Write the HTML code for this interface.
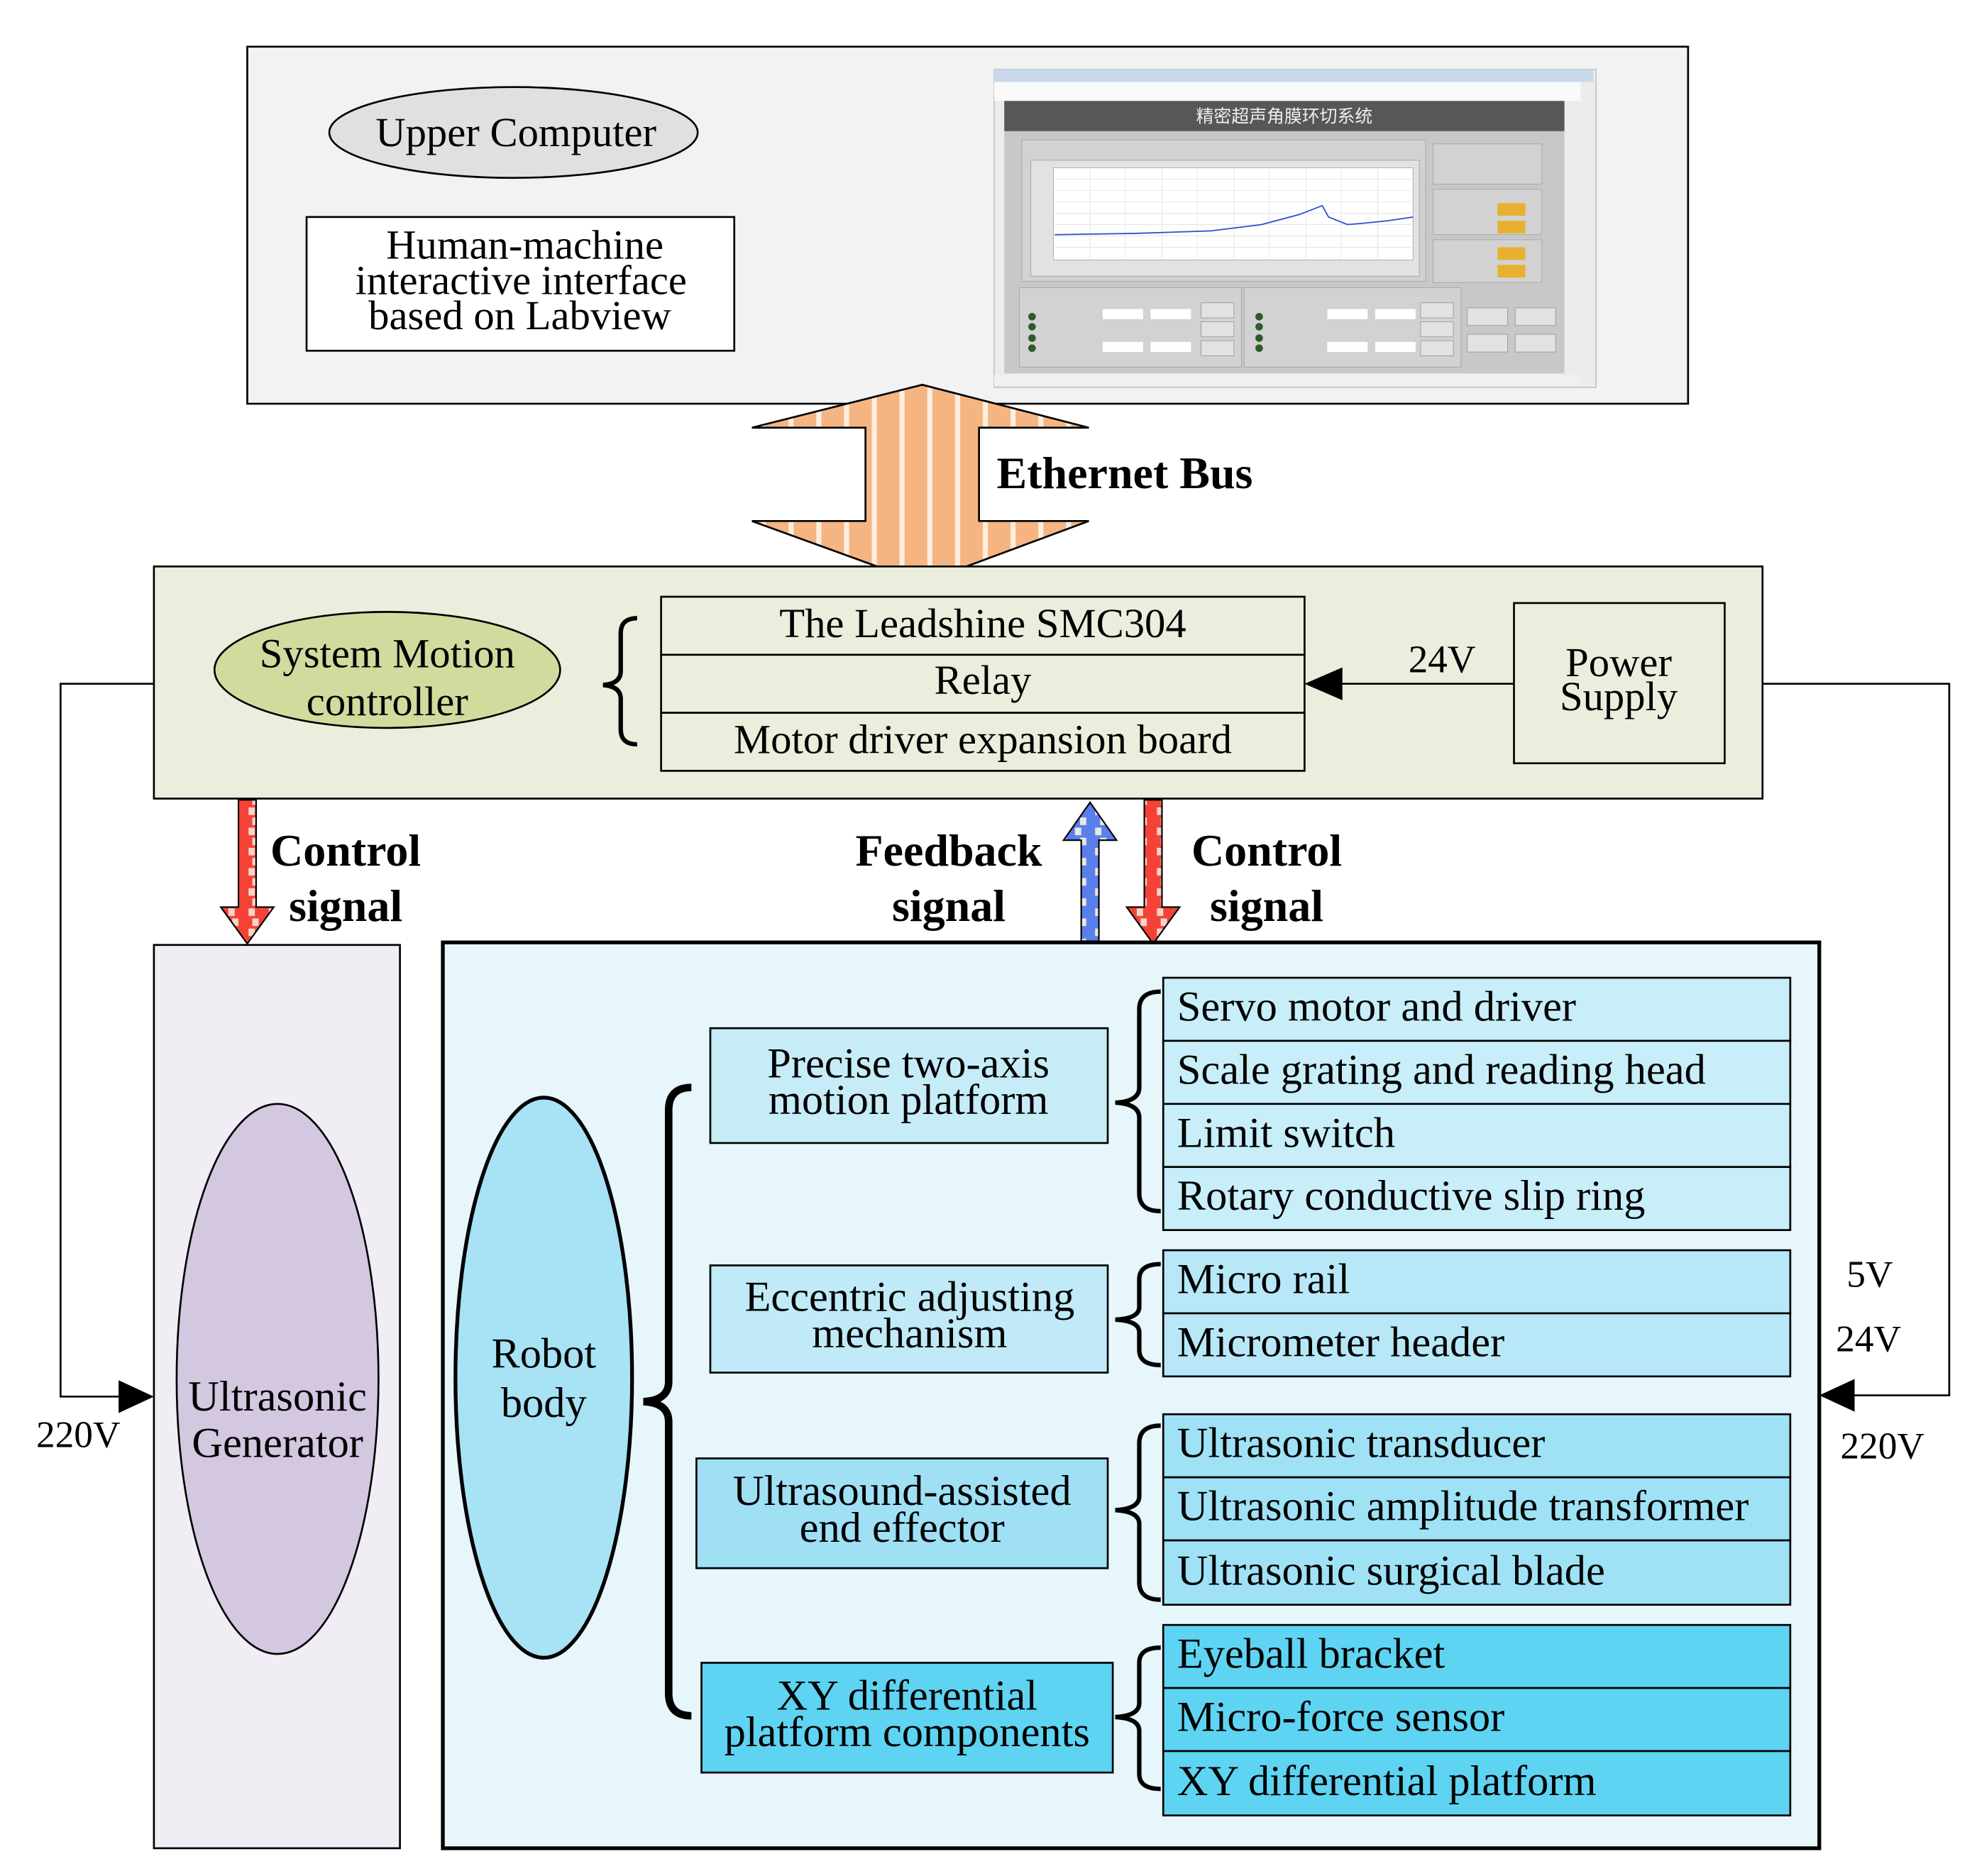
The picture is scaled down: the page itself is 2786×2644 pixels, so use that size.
<!DOCTYPE html>
<html><head><meta charset="utf-8"><style>
html,body{margin:0;padding:0;background:#fff}
svg{display:block}
text{font-family:"Liberation Serif","Noto Serif CJK SC",serif;fill:#000}
</style></head><body>
<svg width="2786" height="2644" viewBox="0 0 1567 1487" preserveAspectRatio="none" xmlns="http://www.w3.org/2000/svg">
<defs>
<pattern id="stripeO" width="22" height="10" patternUnits="userSpaceOnUse"><rect width="22" height="10" fill="#f5b582"/><rect x="9" width="4" height="10" fill="#fdeee0"/></pattern>
<pattern id="chkR" width="16" height="16" patternUnits="userSpaceOnUse"><rect width="16" height="16" fill="#f44336"/><rect x="5" y="0" width="5" height="6" fill="#f3d5cc"/><rect x="8" y="8" width="5" height="6" fill="#f3d5cc"/></pattern>
<pattern id="chkB" width="16" height="16" patternUnits="userSpaceOnUse"><rect width="16" height="16" fill="#5b7fea"/><rect x="4" y="0" width="5" height="6" fill="#e8eadf"/><rect x="8" y="8" width="5" height="6" fill="#e8eadf"/></pattern>
</defs>

<!-- top box -->
<rect x="196" y="37" width="1142" height="283" fill="#f2f2f2" stroke="#000" stroke-width="1.5"/>
<ellipse cx="407" cy="105" rx="146" ry="36" fill="#e0e0e0" stroke="#000" stroke-width="1.5"/>
<text x="409" y="116" font-size="33" text-anchor="middle">Upper Computer</text>
<rect x="243" y="172" width="339" height="106" fill="#fff" stroke="#000" stroke-width="1.5"/>
<text font-size="33" text-anchor="middle"><tspan x="416" y="205">Human-machine</tspan><tspan x="413" y="233">interactive interface</tspan><tspan x="412" y="261">based on Labview</tspan></text>

<!-- screenshot -->
<g>
<rect x="788" y="55" width="477" height="252" fill="#ececec" stroke="#bbb" stroke-width="0.8"/>
<rect x="788" y="55" width="475" height="10" fill="#c8d8ea"/>
<rect x="788" y="65" width="465" height="15" fill="#fafafa"/>
<rect x="796" y="80" width="444" height="24" fill="#575757"/>
<text x="1018" y="97" font-size="14" text-anchor="middle" style="fill:#eee;font-family:'Noto Sans CJK SC',sans-serif">精密超声角膜环切系统</text>
<rect x="796" y="104" width="444" height="192" fill="#c8c8c8"/>
<rect x="810" y="111" width="320" height="112" fill="#d2d2d2" stroke="#aaa" stroke-width="0.6"/>
<rect x="817" y="127" width="308" height="92" fill="#e2e2e2" stroke="#aaa" stroke-width="0.6"/>
<rect x="835" y="133" width="285" height="73" fill="#fff" stroke="#999" stroke-width="0.4"/>
<g stroke="#e4e4e4" stroke-width="0.5">
<line x1="835" y1="142" x2="1120" y2="142"/><line x1="835" y1="151" x2="1120" y2="151"/><line x1="835" y1="160" x2="1120" y2="160"/><line x1="835" y1="169" x2="1120" y2="169"/><line x1="835" y1="178" x2="1120" y2="178"/><line x1="835" y1="187" x2="1120" y2="187"/><line x1="835" y1="196" x2="1120" y2="196"/>
<line x1="864" y1="133" x2="864" y2="206"/><line x1="892" y1="133" x2="892" y2="206"/><line x1="921" y1="133" x2="921" y2="206"/><line x1="949" y1="133" x2="949" y2="206"/><line x1="978" y1="133" x2="978" y2="206"/><line x1="1006" y1="133" x2="1006" y2="206"/><line x1="1035" y1="133" x2="1035" y2="206"/><line x1="1063" y1="133" x2="1063" y2="206"/><line x1="1092" y1="133" x2="1092" y2="206"/>
</g>
<polyline points="836,186 900,185 960,183 1000,178 1030,170 1048,163 1053,172 1068,178 1080,177 1100,175 1120,172" fill="none" stroke="#2a4fd0" stroke-width="1"/>
<rect x="1136" y="114" width="86" height="32" fill="#d2d2d2" stroke="#aaa" stroke-width="0.6"/>
<rect x="1136" y="150" width="86" height="36" fill="#d2d2d2" stroke="#aaa" stroke-width="0.6"/>
<rect x="1136" y="190" width="86" height="34" fill="#d2d2d2" stroke="#aaa" stroke-width="0.6"/>
<rect x="1187" y="161" width="22" height="10" fill="#e8b030"/><rect x="1187" y="175" width="22" height="10" fill="#e8b030"/>
<rect x="1187" y="196" width="22" height="10" fill="#e8b030"/><rect x="1187" y="210" width="22" height="10" fill="#e8b030"/>
<rect x="808" y="228" width="176" height="63" fill="#d2d2d2" stroke="#aaa" stroke-width="0.6"/>
<rect x="986" y="228" width="172" height="63" fill="#d2d2d2" stroke="#aaa" stroke-width="0.6"/>
<g fill="#e2e2e2" stroke="#999" stroke-width="0.5">
<rect x="952" y="240" width="26" height="12"/><rect x="952" y="255" width="26" height="12"/><rect x="952" y="270" width="26" height="12"/>
<rect x="1126" y="240" width="26" height="12"/><rect x="1126" y="255" width="26" height="12"/><rect x="1126" y="270" width="26" height="12"/>
<rect x="1163" y="244" width="32" height="14"/><rect x="1201" y="244" width="32" height="14"/>
<rect x="1163" y="265" width="32" height="14"/><rect x="1201" y="265" width="32" height="14"/>
</g>
<g fill="#fff"><rect x="874" y="245" width="32" height="8"/><rect x="912" y="245" width="32" height="8"/><rect x="874" y="271" width="32" height="8"/><rect x="912" y="271" width="32" height="8"/><rect x="1052" y="245" width="32" height="8"/><rect x="1090" y="245" width="32" height="8"/><rect x="1052" y="271" width="32" height="8"/><rect x="1090" y="271" width="32" height="8"/></g>
<g fill="#2f5a2a"><circle cx="818" cy="251" r="3"/><circle cx="818" cy="259" r="3"/><circle cx="818" cy="268" r="3"/><circle cx="818" cy="276" r="3"/><circle cx="998" cy="251" r="3"/><circle cx="998" cy="259" r="3"/><circle cx="998" cy="268" r="3"/><circle cx="998" cy="276" r="3"/></g>
<rect x="788" y="297" width="465" height="9" fill="#f0f0f0"/>
</g>

<!-- Ethernet arrow -->
<polygon points="686,339 596,339 731,305 863,339 776,339 776,413 863,413 731,462 596,413 686,413" fill="url(#stripeO)" stroke="#000" stroke-width="1.5"/>
<text x="790" y="387" font-size="36" font-weight="bold">Ethernet Bus</text>

<!-- middle box -->
<rect x="122" y="449" width="1275" height="184" fill="#ebeedd" stroke="#000" stroke-width="1.5"/>
<ellipse cx="307" cy="531" rx="137" ry="46" fill="#d0dc9e" stroke="#000" stroke-width="1.5"/>
<text font-size="33" text-anchor="middle"><tspan x="307" y="529">System Motion</tspan><tspan x="307" y="567">controller</tspan></text>
<path d="M505,490 Q492,490 492,502 L492,532 Q492,542 478,543 Q492,544 492,554 L492,578 Q492,590 505,590" fill="none" stroke="#000" stroke-width="3.5"/>
<g fill="#ebeedd" stroke="#000" stroke-width="1.5">
<rect x="524" y="473" width="510" height="46"/><rect x="524" y="519" width="510" height="46"/><rect x="524" y="565" width="510" height="46"/>
</g>
<text font-size="33" text-anchor="middle"><tspan x="779" y="505">The Leadshine SMC304</tspan><tspan x="779" y="550">Relay</tspan><tspan x="779" y="597">Motor driver expansion board</tspan></text>
<rect x="1200" y="478" width="167" height="127" fill="#ebeedd" stroke="#000" stroke-width="1.5"/>
<text font-size="33" text-anchor="middle"><tspan x="1283" y="536">Power</tspan><tspan x="1283" y="563">Supply</tspan></text>
<line x1="1200" y1="542" x2="1060" y2="542" stroke="#000" stroke-width="1.5"/>
<polygon points="1034,542 1064,529 1064,555" fill="#000"/>
<text x="1143" y="533" font-size="31" text-anchor="middle">24V</text>

<!-- side power lines -->
<polyline points="122,542 48,542 48,1107 98,1107" fill="none" stroke="#000" stroke-width="1.5"/>
<polygon points="122,1107 94,1094 94,1120" fill="#000"/>
<text x="62" y="1147" font-size="30" text-anchor="middle">220V</text>
<polyline points="1397,542 1545,542 1545,1106 1466,1106" fill="none" stroke="#000" stroke-width="1.5"/>
<polygon points="1442,1106 1470,1093 1470,1119" fill="#000"/>
<text x="1482" y="1020" font-size="30" text-anchor="middle">5V</text>
<text x="1481" y="1071" font-size="30" text-anchor="middle">24V</text>
<text x="1492" y="1156" font-size="30" text-anchor="middle">220V</text>

<!-- signal arrows -->
<polygon points="189,634 203,634 203,719 217,719 196,748 175,719 189,719" fill="url(#chkR)" stroke="#000" stroke-width="1.2"/>
<polygon points="907,634 921,634 921,719 935,719 914,748 893,719 907,719" fill="url(#chkR)" stroke="#000" stroke-width="1.2"/>
<polygon points="857,746 871,746 871,666 885,666 864,636 843,666 857,666" fill="url(#chkB)" stroke="#000" stroke-width="1.2"/>
<text font-size="36" font-weight="bold" text-anchor="middle"><tspan x="274" y="686">Control</tspan><tspan x="274" y="730">signal</tspan></text>
<text font-size="36" font-weight="bold" text-anchor="middle"><tspan x="752" y="686">Feedback</tspan><tspan x="752" y="730">signal</tspan></text>
<text font-size="36" font-weight="bold" text-anchor="middle"><tspan x="1004" y="686">Control</tspan><tspan x="1004" y="730">signal</tspan></text>

<!-- ultrasonic generator -->
<rect x="122" y="749" width="195" height="716" fill="#f0eef4" stroke="#000" stroke-width="1.5"/>
<ellipse cx="220" cy="1093" rx="80" ry="218" fill="#d3c8e0" stroke="#000" stroke-width="1.5"/>
<text font-size="34" text-anchor="middle"><tspan x="220" y="1118">Ultrasonic</tspan><tspan x="220" y="1155">Generator</tspan></text>

<!-- robot box -->
<rect x="351" y="747" width="1091" height="718" fill="#e6f6fb" stroke="#000" stroke-width="3"/>
<ellipse cx="431" cy="1092" rx="70" ry="222" fill="#a8e2f5" stroke="#000" stroke-width="3"/>
<text font-size="34" text-anchor="middle"><tspan x="431" y="1084">Robot</tspan><tspan x="431" y="1123">body</tspan></text>
<path d="M548,862 Q530,862 530,880 L530,1095 Q530,1110 510,1111 Q530,1112 530,1127 L530,1342 Q530,1360 548,1360" fill="none" stroke="#000" stroke-width="6"/>

<g stroke="#000" stroke-width="1.5">
<rect x="563" y="815" width="315" height="91" fill="#c6ecf8"/>
<rect x="563" y="1003" width="315" height="85" fill="#c0eaf8"/>
<rect x="552" y="1156" width="326" height="87" fill="#9fe0f5"/>
<rect x="556" y="1318" width="326" height="87" fill="#5ed3f2"/>
</g>
<text font-size="34" text-anchor="middle"><tspan x="720" y="854">Precise two-axis</tspan><tspan x="720" y="883">motion platform</tspan></text>
<text font-size="34" text-anchor="middle"><tspan x="721" y="1039">Eccentric adjusting</tspan><tspan x="721" y="1068">mechanism</tspan></text>
<text font-size="34" text-anchor="middle"><tspan x="715" y="1193">Ultrasound-assisted</tspan><tspan x="715" y="1222">end effector</tspan></text>
<text font-size="34" text-anchor="middle"><tspan x="719" y="1355">XY differential</tspan><tspan x="719" y="1384">platform components</tspan></text>

<g fill="none" stroke="#000" stroke-width="3.5">
<path d="M920,786 Q903,786 903,800 L903,862 Q903,873 884,874 Q903,875 903,886 L903,946 Q903,960 920,960"/>
<path d="M920,1002 Q903,1002 903,1014 L903,1036 Q903,1045 884,1046 Q903,1047 903,1056 L903,1070 Q903,1082 920,1082"/>
<path d="M920,1130 Q903,1130 903,1144 L903,1186 Q903,1196 884,1197 Q903,1198 903,1208 L903,1254 Q903,1268 920,1268"/>
<path d="M920,1306 Q903,1306 903,1318 L903,1350 Q903,1360 884,1361 Q903,1362 903,1372 L903,1406 Q903,1418 920,1418"/>
</g>

<g stroke="#000" stroke-width="1.5">
<rect x="922" y="775" width="497" height="50" fill="#c8eef9"/><rect x="922" y="825" width="497" height="50" fill="#c8eef9"/><rect x="922" y="875" width="497" height="50" fill="#c8eef9"/><rect x="922" y="925" width="497" height="50" fill="#c8eef9"/>
<rect x="922" y="991" width="497" height="50" fill="#b8e8f7"/><rect x="922" y="1041" width="497" height="50" fill="#b8e8f7"/>
<rect x="922" y="1121" width="497" height="50" fill="#9fe2f6"/><rect x="922" y="1171" width="497" height="50" fill="#9fe2f6"/><rect x="922" y="1221" width="497" height="51" fill="#9fe2f6"/>
<rect x="922" y="1288" width="497" height="50" fill="#5fd4f2"/><rect x="922" y="1338" width="497" height="50" fill="#5fd4f2"/><rect x="922" y="1388" width="497" height="51" fill="#5fd4f2"/>
</g>
<g font-size="34">
<text x="933" y="809">Servo motor and driver</text>
<text x="933" y="859">Scale grating and reading head</text>
<text x="933" y="909">Limit switch</text>
<text x="933" y="959">Rotary conductive slip ring</text>
<text x="933" y="1025">Micro rail</text>
<text x="933" y="1075">Micrometer header</text>
<text x="933" y="1155">Ultrasonic transducer</text>
<text x="933" y="1205">Ultrasonic amplitude transformer</text>
<text x="933" y="1256">Ultrasonic surgical blade</text>
<text x="933" y="1322">Eyeball bracket</text>
<text x="933" y="1372">Micro-force sensor</text>
<text x="933" y="1423">XY differential platform</text>
</g>
</svg>
</body></html>
